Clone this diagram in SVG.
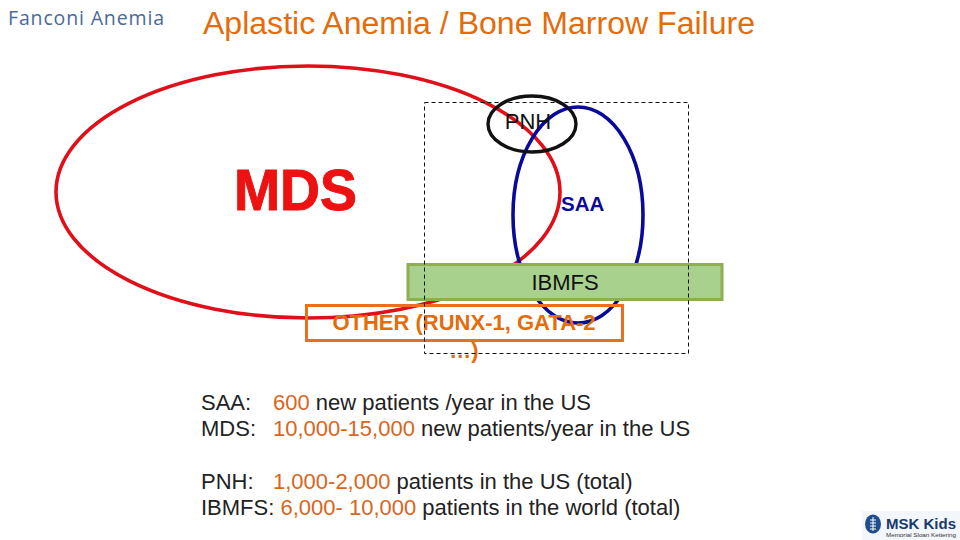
<svg xmlns="http://www.w3.org/2000/svg" width="960" height="540" viewBox="0 0 960 540">
<style>
text{font-family:"Liberation Sans",Arial,sans-serif}
.o{fill:#e46c0a}
.k{fill:#111}
.b{fill:#222;font-size:22px}
.r{fill:#d8661c}
</style>
<rect width="960" height="540" fill="#fff"/>
<text x="8" y="25" style="font-family:'Open Sans','Noto Sans',sans-serif" font-size="19.500" fill="#4a6a9a" textLength="156">Fanconi Anemia</text>
<text x="203" y="34" class="o" font-size="31" textLength="552" lengthAdjust="spacingAndGlyphs">Aplastic Anemia / Bone Marrow Failure</text>
<g id="connectors">
<g id="mds"><ellipse cx="308" cy="192" rx="252" ry="126" fill="none" stroke="#e0101a" stroke-width="3.600"/></g>
<g id="saa"><ellipse cx="578" cy="215" rx="65" ry="108" fill="none" stroke="#0a0a9a" stroke-width="3.600"/></g>
<g id="pnh"><ellipse cx="532" cy="124" rx="44" ry="28" fill="none" stroke="#111" stroke-width="3.400"/></g>
</g>
<g id="ibmfs"><rect x="408" y="264.500" width="314" height="35" fill="#a9d18e" stroke="#8fae4f" stroke-width="3"/>
<text x="565" y="290" class="k" font-size="22" text-anchor="middle">IBMFS</text></g>
<g id="other"><rect x="306.500" y="305.500" width="316" height="35" fill="none" stroke="#e8701e" stroke-width="3"/>
<text x="464" y="330" class="o" font-size="22" font-weight="700" text-anchor="middle">OTHER (RUNX-1, GATA-2</text>
<text x="464" y="358" class="o" font-size="22" font-weight="700" text-anchor="middle">…)</text></g>
<rect id="frame" x="424.500" y="102.500" width="264" height="251" fill="none" stroke="#111" stroke-width="1" stroke-dasharray="4 3"/>
<text x="528" y="129" class="k" font-size="22" text-anchor="middle">PNH</text>
<text x="234" y="210" fill="#ee1111" stroke="#ee1111" stroke-width="1" font-size="57" font-weight="700" textLength="123" lengthAdjust="spacingAndGlyphs">MDS</text>
<text x="561" y="211" fill="#0a0a9a" font-size="20.500" font-weight="700">SAA</text>
<text x="201" y="410" class="b">SAA:<tspan x="273" class="r">600</tspan> new patients /year in the US</text>
<text x="201" y="436" class="b">MDS:<tspan x="273" class="r">10,000-15,000</tspan> new patients/year in the US</text>
<text x="201" y="489" class="b">PNH:<tspan x="273" class="r">1,000-2,000</tspan> patients in the US (total)</text>
<text x="201" y="515" class="b">IBMFS: <tspan class="r">6,000- 10,000</tspan> patients in the world (total)</text>
<g id="logo">
<rect x="862" y="511" width="98" height="29" fill="#f3f6fa"/>
<ellipse cx="873" cy="524" rx="8" ry="9.500" fill="#1f4e8c"/>
<path d="M873 517V531M870 520H876M870 523H876M870 526H876M870 529H876" stroke="#fff" stroke-width="1" fill="none"/>
<text x="886" y="529" fill="#173a6b" font-size="15.500" font-weight="700" textLength="70" lengthAdjust="spacingAndGlyphs">MSK Kids</text>
<text x="886" y="537" fill="#333" font-size="5.500" textLength="70" lengthAdjust="spacingAndGlyphs">Memorial Sloan Kettering</text>
</g>
</svg>
